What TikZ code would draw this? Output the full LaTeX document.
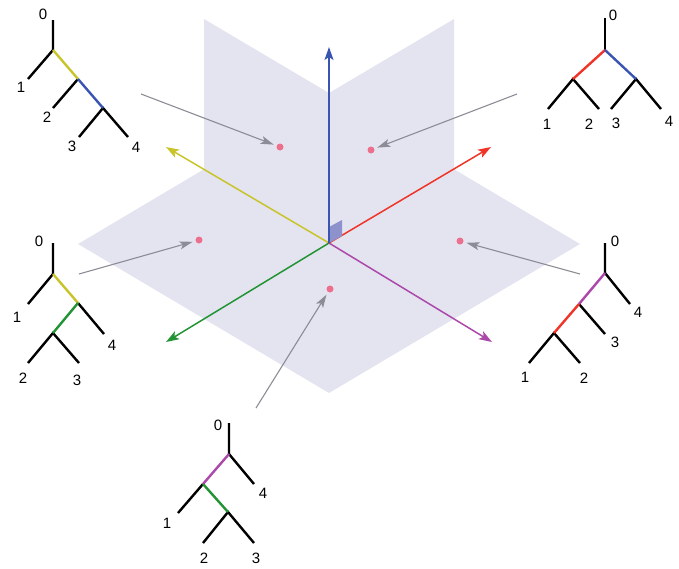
\documentclass[tikz,border=0pt]{standalone}
\usepackage{fontspec}
\setmainfont{Liberation Sans}
\usetikzlibrary{arrows.meta}
\definecolor{planefill}{RGB}{228,228,240}
\definecolor{cornerfill}{RGB}{142,146,204}
\definecolor{axyellow}{RGB}{200,196,42}
\definecolor{axblue}{RGB}{58,84,178}
\definecolor{axred}{RGB}{240,52,40}
\definecolor{axgreen}{RGB}{34,148,52}
\definecolor{axpurple}{RGB}{172,72,170}
\definecolor{dotpink}{RGB}{236,112,142}
\definecolor{pointergray}{RGB}{140,140,150}
\tikzset{
  pxgrid/.style={x=1pt, y=-1pt},
  plane/.style={fill=planefill, draw=none},
  axis/.style={line width=1.5pt, -{Stealth[length=13pt, width=9pt, inset=3pt]}},
  pointer/.style={draw=pointergray, line width=1.1pt, shorten >=3pt,
    -{Stealth[length=13pt, width=8pt, inset=3pt]}},
  rdot/.style={circle, fill=dotpink, inner sep=0pt, minimum size=7pt},
  branch/.style={line width=2.4pt},
  leaflab/.style={font=\fontsize{15}{17}\selectfont, inner sep=0pt},
}
\newcommand{\tlab}[3]{\node[leaflab] (#1) at (#2) {#3};}

\begin{document}
\begin{tikzpicture}[pxgrid]
  \useasboundingbox (0,0) rectangle (679,568);
  % planes
  \fill[plane] (78,244) -- (329,95) -- (580,244) -- (329,393) -- cycle;
  \fill[plane] (329,243) -- (204,172) -- (204,19) -- (329,93) -- cycle;
  \fill[plane] (329,243) -- (454,172) -- (454,19) -- (329,93) -- cycle;
  % axes
  \coordinate (O) at (329,243);
  \coordinate (ublue) at (329,47);
  \coordinate (ured) at (491,147);
  \coordinate (uyellow) at (166,147);
  \coordinate (ugreen) at (166,342);
  \coordinate (upurple) at (492,342);
  \draw[axis, axyellow] (O) -- (uyellow);
  \draw[axis, axgreen] (O) -- (ugreen);
  \draw[axis, axpurple] (O) -- (upurple);
  \draw[axis, axred] (O) -- (ured);
  \fill[cornerfill] (O) -- (329,227) -- (342,220) -- (342,236) -- cycle;
  \draw[axis, axblue] (O) -- (ublue);
  % points in the cones
  \node[rdot] (d1) at (280,147) {};
  \node[rdot] (d2) at (371,150) {};
  \node[rdot] (d3) at (199,240) {};
  \node[rdot] (d4) at (460,241) {};
  \node[rdot] (d5) at (330,289) {};
  \coordinate (p1) at (141,94);
  \coordinate (p2) at (517,94);
  \coordinate (p3) at (79,274);
  \coordinate (p4) at (580,274);
  \coordinate (p5) at (256,408);
  \draw[pointer] (p1) -- (d1);
  \draw[pointer] (p2) -- (d2);
  \draw[pointer] (p3) -- (d3);
  \draw[pointer] (p4) -- (d4);
  \draw[pointer] (p5) -- (d5);
  % tree top left: 1 (2 (3 4))
  \coordinate (t1top) at (53,20);
  \coordinate (t1r) at (53,50);
  \coordinate (t1a) at (78,79);
  \coordinate (t1b) at (103,108);
  \draw[branch] (t1top) -- (t1r) -- (28,79) coordinate (t1l1);
  \draw[branch] (t1a) -- (53,108) coordinate (t1l2);
  \draw[branch] (79,137) coordinate (t1l3) -- (t1b) -- (128,137) coordinate (t1l4);
  \draw[branch, axyellow] (t1r) -- (t1a);
  \draw[branch, axblue] (t1a) -- (t1b);
  \tlab{t1n0}{43,14}{0}\tlab{t1n1}{21,87}{1}\tlab{t1n2}{47,117}{2}
  \tlab{t1n3}{72,146}{3}\tlab{t1n4}{136,147}{4}
  % tree top right: (1 2)(3 4)
  \coordinate (t2top) at (605,18);
  \coordinate (t2r) at (605,50);
  \coordinate (t2a) at (573,79);
  \coordinate (t2b) at (636,79);
  \draw[branch] (t2top) -- (t2r);
  \draw[branch] (548,109) coordinate (t2l1) -- (t2a) -- (599,109) coordinate (t2l2);
  \draw[branch] (611,109) coordinate (t2l3) -- (t2b) -- (661,109) coordinate (t2l4);
  \draw[branch, axred] (t2r) -- (t2a);
  \draw[branch, axblue] (t2r) -- (t2b);
  \tlab{t2n0}{613,15}{0}\tlab{t2n1}{547,124}{1}\tlab{t2n2}{589,124}{2}
  \tlab{t2n3}{616,123}{3}\tlab{t2n4}{669,121}{4}
  % tree middle left: (1 ((2 3) 4))
  \coordinate (t3top) at (53,243);
  \coordinate (t3r) at (53,274);
  \coordinate (t3a) at (78,303);
  \coordinate (t3b) at (53,333);
  \draw[branch] (t3top) -- (t3r) -- (28,304) coordinate (t3l1);
  \draw[branch] (t3a) -- (104,334) coordinate (t3l4);
  \draw[branch] (28,363) coordinate (t3l2) -- (t3b) -- (79,363) coordinate (t3l3);
  \draw[branch, axyellow] (t3r) -- (t3a);
  \draw[branch, axgreen] (t3a) -- (t3b);
  \tlab{t3n0}{39,241}{0}\tlab{t3n1}{17,317}{1}\tlab{t3n4}{112,345}{4}
  \tlab{t3n2}{23,378}{2}\tlab{t3n3}{77,380}{3}
  % tree middle right: (((1 2) 3) 4)
  \coordinate (t4top) at (605,243);
  \coordinate (t4r) at (605,273);
  \coordinate (t4a) at (579,304);
  \coordinate (t4b) at (554,333);
  \draw[branch] (t4top) -- (t4r) -- (630,304) coordinate (t4l4);
  \draw[branch] (t4a) -- (605,334) coordinate (t4l3);
  \draw[branch] (529,363) coordinate (t4l1) -- (t4b) -- (580,363) coordinate (t4l2);
  \draw[branch, axpurple] (t4r) -- (t4a);
  \draw[branch, axred] (t4a) -- (t4b);
  \tlab{t4n0}{615,241}{0}\tlab{t4n4}{638,312}{4}\tlab{t4n3}{615,342}{3}
  \tlab{t4n1}{525,377}{1}\tlab{t4n2}{584,378}{2}
  % tree bottom: ((1 (2 3)) 4)
  \coordinate (t5top) at (229,423);
  \coordinate (t5r) at (229,454);
  \coordinate (t5a) at (203,484);
  \coordinate (t5b) at (228,512);
  \draw[branch] (t5top) -- (t5r) -- (254,484) coordinate (t5l4);
  \draw[branch] (t5a) -- (178,513) coordinate (t5l1);
  \draw[branch] (203,543) coordinate (t5l2) -- (t5b) -- (254,543) coordinate (t5l3);
  \draw[branch, axpurple] (t5r) -- (t5a);
  \draw[branch, axgreen] (t5a) -- (t5b);
  \tlab{t5n0}{218,425}{0}\tlab{t5n4}{263,493}{4}\tlab{t5n1}{167,523}{1}
  \tlab{t5n2}{204,558}{2}\tlab{t5n3}{256,558}{3}
\end{tikzpicture}
\end{document}
